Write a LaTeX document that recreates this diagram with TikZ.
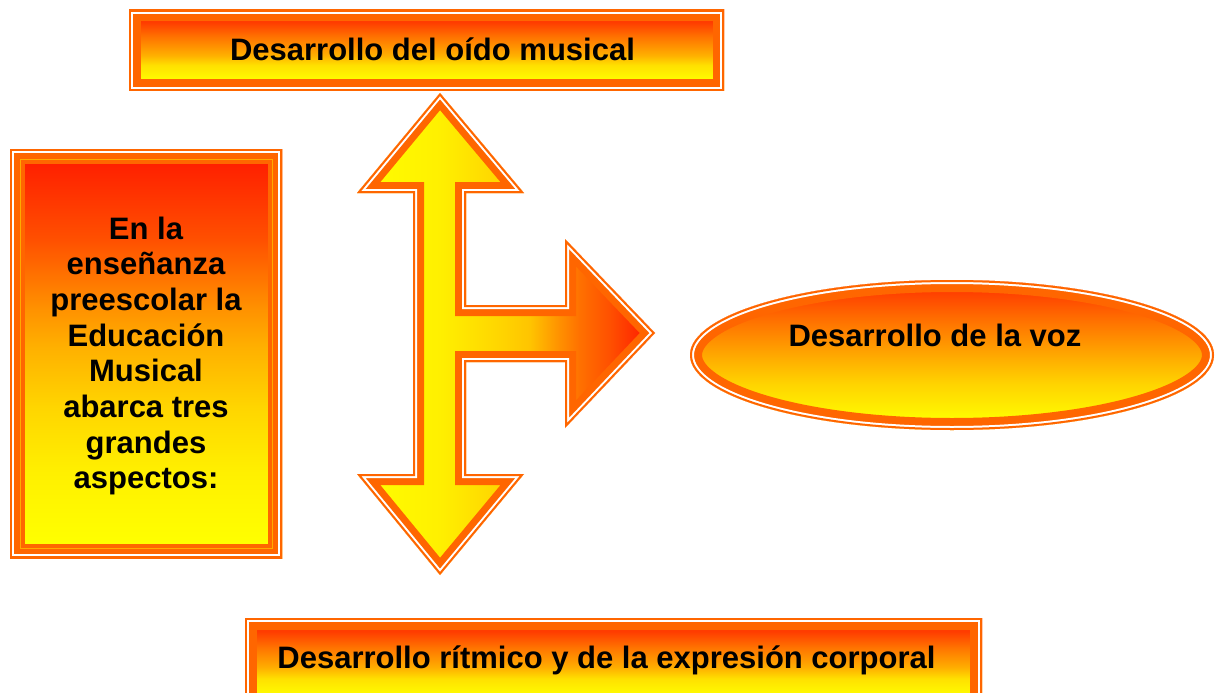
\documentclass[tikz,border=0pt]{standalone}
\usepackage{fontspec}
\setmainfont{Liberation Sans}
\definecolor{frameor}{HTML}{FF6600}
\definecolor{lightline}{HTML}{FFAA00}
% colours for the stops
\definecolor{Y}{HTML}{FFFF00}
\definecolor{Ya}{HTML}{FFF000}
\definecolor{Yb}{HTML}{FFE000}
\definecolor{Yc}{HTML}{FFD500}
\definecolor{Gd}{HTML}{FFC400}
\definecolor{Oa}{HTML}{FFB000}
\definecolor{Ob}{HTML}{FF9000}
\definecolor{Oc}{HTML}{FF7000}
\definecolor{Od}{HTML}{FF5000}
\definecolor{Rb}{HTML}{FF3C00}
\definecolor{Ra}{HTML}{FF2000}
\pgfdeclareverticalshading{boxshade}{100bp}{color(0bp)=(Y); color(31bp)=(Y); color(41bp)=(Yb); color(47bp)=(Oa); color(53bp)=(Ob); color(59bp)=(Oc); color(67.5bp)=(Rb); color(100bp)=(Rb)}
\pgfdeclareverticalshading{leftshade}{100bp}{color(0bp)=(Y); color(26.8bp)=(Y); color(35.4bp)=(Ya); color(43.5bp)=(Yc); color(50.8bp)=(Oa); color(55.7bp)=(Ob); color(63.9bp)=(Od); color(73.2bp)=(Ra); color(100bp)=(Ra)}
\pgfdeclareverticalshading{ellshade}{100bp}{color(0bp)=(Y); color(28.3bp)=(Y); color(31.7bp)=(Ya); color(40bp)=(Yc); color(48.3bp)=(Oa); color(55bp)=(Ob); color(61.7bp)=(Oc); color(71.7bp)=(Rb); color(100bp)=(Rb)}
\pgfdeclarehorizontalshading{arrowshade}{100bp}{color(0bp)=(Y); color(25bp)=(Y); color(38.9bp)=(Ya); color(49bp)=(Yc); color(54bp)=(Gd); color(59bp)=(Ob); color(62.4bp)=(Oc); color(67.4bp)=(Od); color(73.3bp)=(Ra); color(100bp)=(Ra)}
\newcommand{\bandshape}[3]{%
  \begin{scope}
    \clip #1;
    \shade[shading=#2] #1;
    \draw[frameor, line width=#3] #1;
    \draw[white, line width=8pt] #1;
    \draw[frameor, line width=4pt] #1;
  \end{scope}}
\tikzset{lbl/.style={font=\bfseries\fontsize{31}{35.7}\selectfont, inner sep=0pt, text=black}}
\begin{document}
\begin{tikzpicture}[x=1pt, y=-1pt]
  \useasboundingbox (0,0) rectangle (1216,693);
  \fill[white] (0,0) rectangle (1216,693);
  \clip (0,0) rectangle (1216,693);
  % top box
  \bandshape{(129,10) rectangle (724,91)}{boxshade}{23pt}
  % bottom box (runs past the lower edge)
  \bandshape{(245,618) rectangle (982,707)}{boxshade}{24pt}
  % left box
  \begin{scope}
    \clip (10,149) rectangle (282,558);
    \shade[shading=leftshade] (10,149) rectangle (282,558);
    \draw[frameor, line width=29pt] (10,149) rectangle (282,558);
    \draw[lightline, line width=21pt] (10,149) rectangle (282,558);
    \draw[frameor, line width=19pt] (10,149) rectangle (282,558);
    \draw[white, line width=8pt] (10,149) rectangle (282,558);
    \draw[frameor, line width=4pt] (10,149) rectangle (282,558);
  \end{scope}
  % ellipse
  \bandshape{(952,355) ellipse [x radius=262pt, y radius=75pt]}{ellshade}{24pt}
  % three-way arrow
  \bandshape{(440,93) -- (524,193) -- (466,193) -- (466,305) -- (565,305) -- (565,239) -- (655,333) -- (565,428) -- (565,362) -- (466,362) -- (466,474) -- (524,474) -- (440,575) -- (357,474) -- (413,474) -- (413,193) -- (357,193) -- cycle}{arrowshade}{22pt}
  % texts
  \node[lbl, anchor=base] (oido) at (432.5,60) {Desarrollo del oído musical};
  \node[lbl, anchor=base] (ritmo) at (606.5,668) {Desarrollo rítmico y de la expresión corporal};
  \node[lbl, anchor=base] (voz) at (935,346) {Desarrollo de la voz};
  \node[lbl, align=center, anchor=center] (intro) at (146,356) {En la\\enseñanza\\preescolar la\\Educación\\Musical\\abarca tres\\grandes\\aspectos:};
\end{tikzpicture}
\end{document}
